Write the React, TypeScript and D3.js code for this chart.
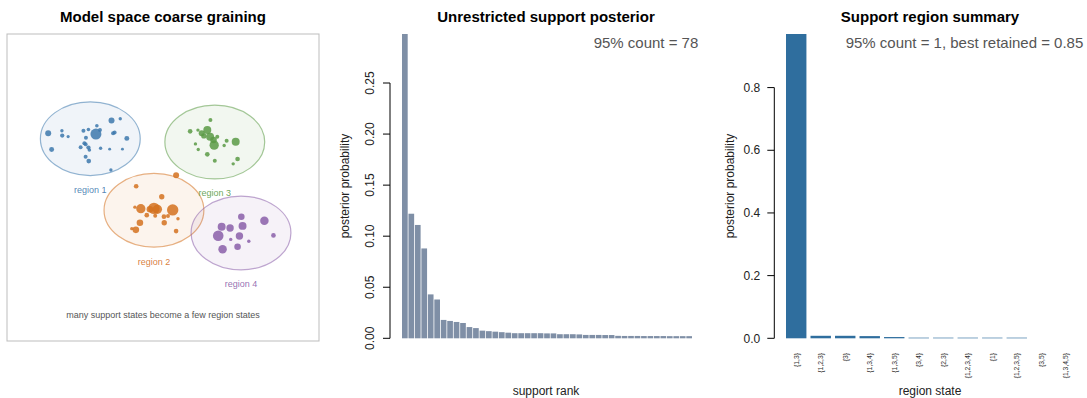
import * as d3 from "d3";

const FONT = "Liberation Sans, Arial, Helvetica, sans-serif";

// ─── Left panel: model space (0..10 on both axes) ───────────────────────
const regionNames = ["region 1", "region 2", "region 3", "region 4"];
const regionCx = [2.67, 4.71, 6.66, 7.5];
const regionCy = [6.59, 4.26, 6.48, 3.52];
const REGION_RX = 1.6;
const REGION_RY = 1.2;

// [x, y, posterior weight]
const region1Points: [number, number, number][] = [
  [1.32, 6.77, 0.25], [1.76, 6.85, 0.08], [1.77, 6.69, 0.13], [1.96, 6.66, 0.07],
  [1.43, 6.24, 0.17], [2.45, 6.85, 0.11], [2.61, 6.89, 0.09], [2.88, 7.01, 0.09],
  [2.98, 6.87, 0.11], [3.35, 7.18, 0.25], [3.63, 7.24, 0.08], [3.4, 6.77, 0.11],
  [3.45, 6.79, 0.11], [3.84, 6.6, 0.17], [2.53, 6.62, 0.11], [2.48, 6.44, 0.11],
  [2.52, 6.41, 0.11], [2.36, 6.31, 0.11], [2.61, 6.3, 0.13], [2.64, 6.22, 0.09],
  [3.0, 6.28, 0.08], [3.29, 6.25, 0.06], [3.7, 6.25, 0.06], [2.52, 6.0, 0.11],
  [2.62, 5.86, 0.15], [3.33, 5.57, 0.08], [2.85, 6.74, 0.84],
];
const region2Points: [number, number, number][] = [
  [5.42, 5.4, 0.25], [4.14, 5.04, 0.15], [4.96, 4.7, 0.2], [4.1, 4.36, 0.08],
  [4.29, 4.31, 0.6], [4.58, 4.29, 0.3], [4.71, 4.32, 0.9], [4.82, 4.29, 0.6],
  [5.31, 4.27, 0.9], [4.48, 4.1, 0.15], [4.75, 4.08, 0.11], [5.03, 4.05, 0.15],
  [5.16, 4.07, 0.11], [5.48, 3.98, 0.08], [4.26, 3.85, 0.3], [5.04, 3.85, 0.2],
  [4.0, 3.66, 0.08], [4.13, 3.62, 0.3], [5.42, 3.58, 0.15],
];
const region3Points: [number, number, number][] = [
  [6.52, 7.2, 0.11], [5.87, 6.83, 0.15], [6.12, 6.87, 0.08], [6.24, 6.77, 0.25],
  [6.42, 6.87, 0.44], [6.51, 6.65, 0.44], [6.62, 6.55, 0.3], [6.64, 6.38, 0.6],
  [6.74, 6.65, 0.11], [7.04, 6.52, 0.11], [7.33, 6.49, 0.44], [6.96, 6.37, 0.08],
  [6.04, 6.42, 0.08], [6.13, 6.24, 0.08], [6.42, 6.08, 0.15], [6.66, 5.87, 0.11],
  [7.39, 5.93, 0.15], [7.25, 5.77, 0.08], [6.31, 6.68, 0.2],
];
const region4Points: [number, number, number][] = [
  [7.51, 4.05, 0.3], [8.25, 3.92, 0.5], [6.88, 3.72, 0.44], [7.15, 3.68, 0.38],
  [7.55, 3.75, 0.44], [6.77, 3.43, 0.78], [7.45, 3.42, 0.38], [7.17, 3.31, 0.08],
  [7.75, 3.25, 0.08], [8.54, 3.44, 0.15], [6.91, 2.99, 0.5], [7.39, 3.07, 0.3],
];
const regionPoints = [region1Points, region2Points, region3Points, region4Points];
const regionColors = ["#3d78ad", "#d4711f", "#5b9a45", "#8a5fa9"];

// ─── Middle panel: unrestricted support posterior (sorted) ──────────────
const supportProb = [
  0.298, 0.122, 0.111, 0.088, 0.043, 0.038, 0.018, 0.017, 0.016, 0.015,
  0.011, 0.01, 0.0075, 0.007, 0.0065, 0.006,
  0.0055, 0.005, 0.005, 0.005, 0.005, 0.005, 0.0048, 0.0048,
  0.004, 0.004, 0.004, 0.0038,
  0.0033, 0.0033, 0.0033, 0.0032, 0.0032,
  0.0024, 0.0023, 0.0023, 0.0023, 0.0022, 0.0022, 0.0022, 0.0022, 0.0021,
  0.0021, 0.0021, 0.0021,
];
const supportTicks = [0, 0.05, 0.1, 0.15, 0.2, 0.25];

// ─── Right panel: region states ─────────────────────────────────────────
const regionStates = [
  "{1,3}", "{1,2,3}", "{3}", "{1,3,4}", "{1,3,5}", "{3,4}",
  "{2,3}", "{1,2,3,4}", "{1}", "{1,2,3,5}", "{3,5}", "{1,3,4,5}",
];
const regionStateProb = [0.971, 0.008, 0.008, 0.007, 0.004, 0.002, 0.002, 0.002, 0.002, 0.002, 0, 0];
const regionTicks = [0, 0.2, 0.4, 0.6, 0.8];

export default function App() {
  // left panel scales
  const xm = d3.scaleLinear().domain([0, 10]).range([7, 319]);
  const ym = d3.scaleLinear().domain([0, 10]).range([341, 34]);
  const rScale = d3.scaleSqrt().domain([0, 1]).range([0, 6]);
  const rxPx = xm(REGION_RX) - xm(0);
  const ryPx = ym(0) - ym(REGION_RY);

  // middle
  const mx = d3.scaleBand<number>().domain(d3.range(supportProb.length)).range([402, 692]).paddingInner(0.12);
  const my = d3.scaleLinear().domain([0, d3.max(supportProb) ?? 1]).range([338.3, 34]);
  const midAxisX = 390;

  // right
  const rx = d3.scaleBand<string>().domain(regionStates).range([786, 1076]).paddingInner(1 / 6);
  const ry = d3.scaleLinear().domain([0, d3.max(regionStateProb) ?? 1]).range([338.3, 34]);
  const rightAxisX = 774.3;

  return (
    <svg
      width={1087}
      height={398}
      style={{ position: "absolute", left: 0, top: 0, background: "#fff" }}
      fontFamily={FONT}
    >
      {/* ── Left: coarse graining ── */}
      <text x={163} y={22} textAnchor="middle" fontSize={15} fontWeight={700} fill="#000">
        Model space coarse graining
      </text>
      <rect x={7} y={34} width={312} height={307} fill="none" stroke="#bdbdbd" strokeWidth={1} />
      {regionNames.map((name, i) => (
        <g key={name}>
          <ellipse
            cx={xm(regionCx[i])}
            cy={ym(regionCy[i])}
            rx={rxPx}
            ry={ryPx}
            fill={regionColors[i]}
            fillOpacity={0.08}
            stroke={regionColors[i]}
            strokeOpacity={0.55}
            strokeWidth={1.2}
          />
          {regionPoints[i].map(([u, v, w], j) => (
            <circle key={j} cx={xm(u)} cy={ym(v)} r={rScale(w)} fill={regionColors[i]} fillOpacity={0.85} />
          ))}
          <text
            x={xm(regionCx[i])}
            y={ym(regionCy[i]) + ryPx + 17.5}
            textAnchor="middle"
            fontSize={9}
            fill={regionColors[i]}
            fillOpacity={0.9}
          >
            {name}
          </text>
        </g>
      ))}
      <text x={163} y={318} textAnchor="middle" fontSize={9} fill="#555">
        many support states become a few region states
      </text>

      {/* ── Middle: unrestricted support posterior ── */}
      <text x={546} y={22} textAnchor="middle" fontSize={15} fontWeight={700} fill="#000">
        Unrestricted support posterior
      </text>
      {supportProb.map((p, i) => (
        <rect key={i} x={mx(i)} y={my(p)} width={mx.bandwidth()} height={my(0) - my(p)} fill="#7f8fa6" />
      ))}
      <line x1={midAxisX} x2={midAxisX} y1={my(0)} y2={my(0.25)} stroke="#000" strokeWidth={1} />
      {supportTicks.map((t) => (
        <g key={t}>
          <line x1={midAxisX - 7} x2={midAxisX} y1={my(t)} y2={my(t)} stroke="#000" strokeWidth={1} />
          <text
            transform={`translate(${midAxisX - 20},${my(t)}) rotate(-90)`}
            textAnchor="middle"
            dy="0.35em"
            fontSize={12}
            fill="#222"
          >
            {t.toFixed(2)}
          </text>
        </g>
      ))}
      <text
        transform={`translate(345,186) rotate(-90)`}
        textAnchor="middle"
        dy="0.35em"
        fontSize={12}
        fill="#222"
      >
        posterior probability
      </text>
      <text x={546} y={395} textAnchor="middle" fontSize={12} fill="#222">
        support rank
      </text>
      <text x={698.3} y={48} textAnchor="end" fontSize={15} fill="#555">
        95% count = 78
      </text>

      {/* ── Right: support region summary ── */}
      <text x={930} y={22} textAnchor="middle" fontSize={15} fontWeight={700} fill="#000">
        Support region summary
      </text>
      {regionStates.map((s, i) => (
        <rect
          key={s}
          x={rx(s)}
          y={ry(regionStateProb[i])}
          width={rx.bandwidth()}
          height={ry(0) - ry(regionStateProb[i])}
          fill="#2f6e9e"
        />
      ))}
      <line x1={rightAxisX} x2={rightAxisX} y1={ry(0)} y2={ry(0.8)} stroke="#000" strokeWidth={1} />
      {regionTicks.map((t) => (
        <g key={t}>
          <line x1={rightAxisX - 7} x2={rightAxisX} y1={ry(t)} y2={ry(t)} stroke="#000" strokeWidth={1} />
          <text x={rightAxisX - 14} y={ry(t)} dy="0.35em" textAnchor="end" fontSize={12} fill="#222">
            {t.toFixed(1)}
          </text>
        </g>
      ))}
      {regionStates.map((s) => (
        <text
          key={s}
          transform={`translate(${(rx(s) ?? 0) + rx.bandwidth() / 2},353) rotate(-90)`}
          textAnchor="end"
          dy="0.35em"
          fontSize={6.8}
          fill="#333"
        >
          {s}
        </text>
      ))}
      <text
        transform={`translate(730,186) rotate(-90)`}
        textAnchor="middle"
        dy="0.35em"
        fontSize={12}
        fill="#222"
      >
        posterior probability
      </text>
      <text x={930} y={395} textAnchor="middle" fontSize={12} fill="#222">
        region state
      </text>
      <text x={1083.3} y={48} textAnchor="end" fontSize={15} fill="#555">
        95% count = 1, best retained = 0.85
      </text>
    </svg>
  );
}
